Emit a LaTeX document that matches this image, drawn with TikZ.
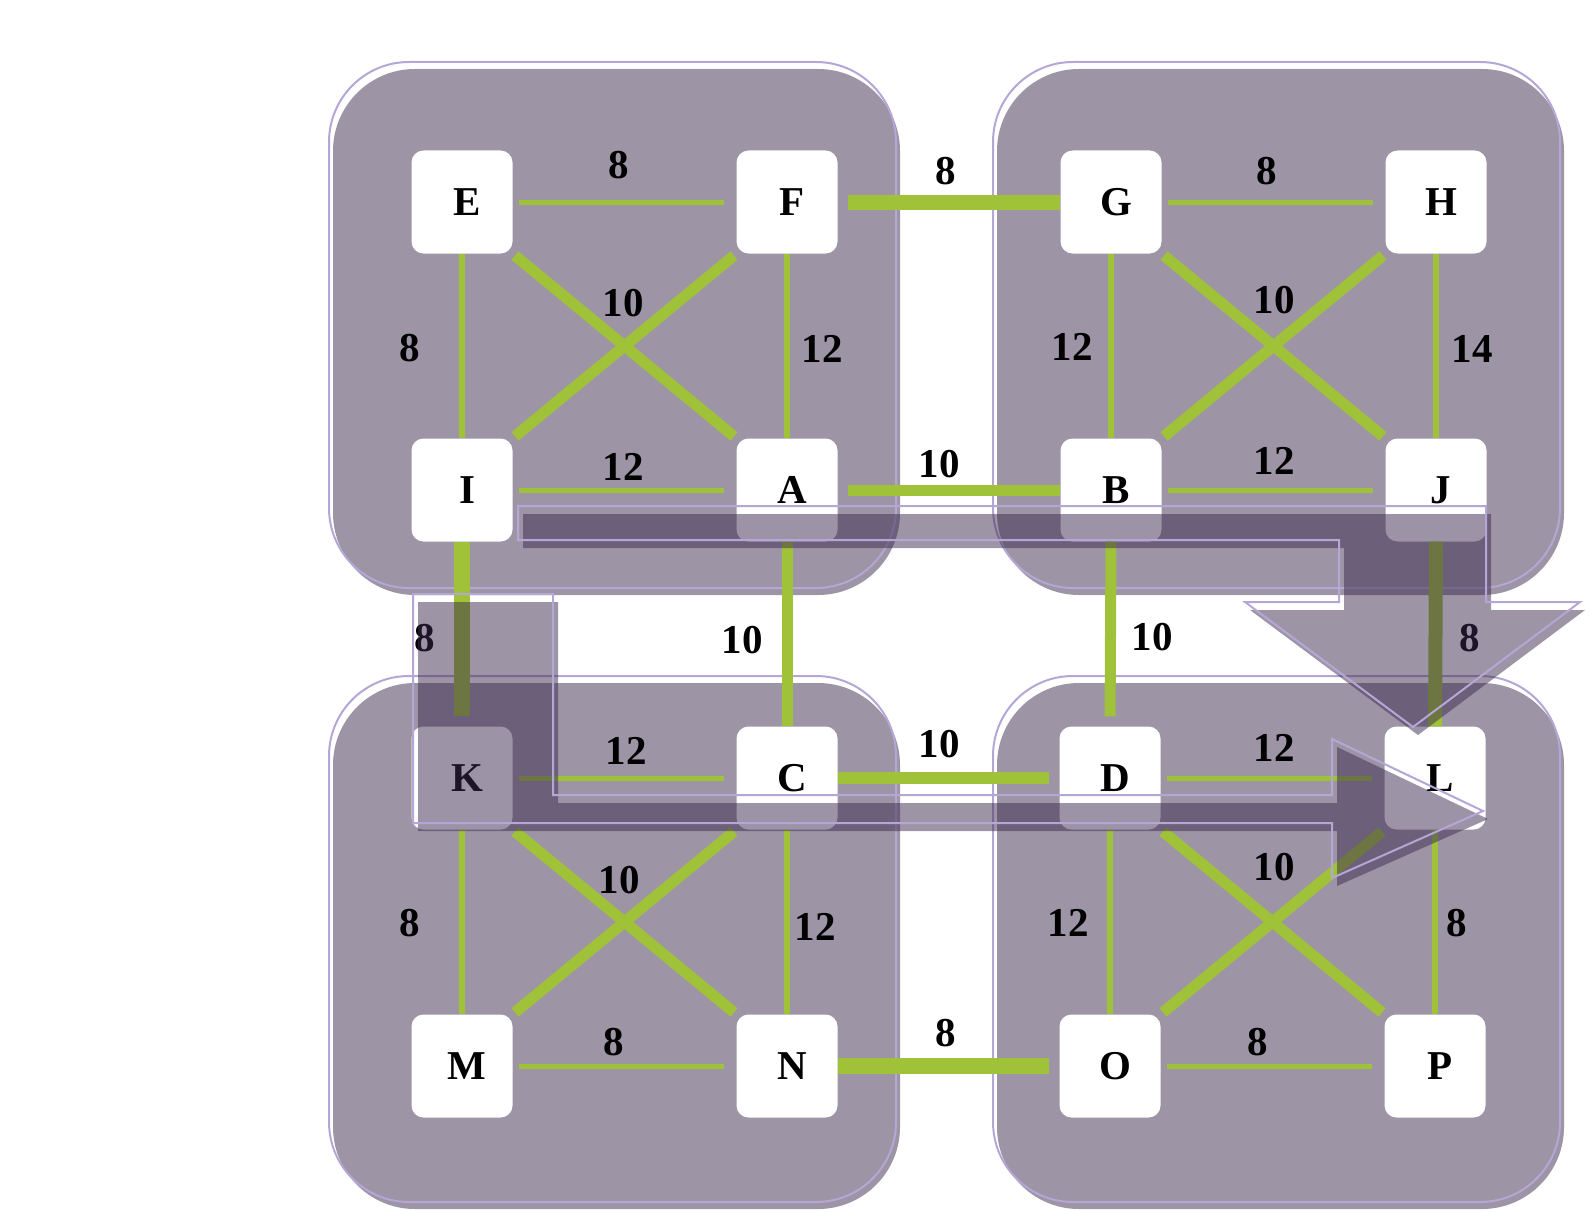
\documentclass[tikz,border=0pt]{standalone}
\usepackage{fontspec}
\setmainfont{Liberation Serif}
\usepackage{tikz}
\usetikzlibrary{calc}

\definecolor{grpfill}{RGB}{59,43,78}
\definecolor{grpline}{RGB}{180,167,214}
\definecolor{edgegreen}{RGB}{160,194,56}

\begin{document}
\begin{tikzpicture}[x=1pt,y=-1pt,
				grp/.style={fill=grpfill,fill opacity=0.5,rounded corners=82pt},
				grpedge/.style={draw=grpline,line width=2pt,rounded corners=80pt},
				vtx/.style={fill=white,rounded corners=12pt,minimum width=101pt,
					minimum height=103pt,inner sep=0pt,
					font=\fontsize{41}{41}\selectfont\bfseries,
					execute at begin node=\hspace*{10pt}},
				wlab/.style={inner sep=0pt,font=\fontsize{41}{41}\selectfont\bfseries},
				thin/.style={draw=edgegreen,line width=5pt},
				cross/.style={draw=edgegreen,line width=11pt,shorten <=3pt,shorten >=3pt},
				bridge/.style={draw=edgegreen},
				bigarrow/.style={fill=grpfill,fill opacity=0.5},
				arrowedge/.style={draw=grpline,line width=2pt,line join=miter}]

				\useasboundingbox (0,0) rectangle (1590,1212);

				%%%%%%%%%%%%%%%%  the four groups  %%%%%%%%%%%%%%%%
				\foreach \gx/\gy in {329/62,993/62,329/676,993/676} {
					\fill[grp] (\gx+4,\gy+7) rectangle +(567,526);
					\draw[grpedge] (\gx,\gy) rectangle +(567,526);
				}

				%%%%%%%%%%%%%%%%  vertices  %%%%%%%%%%%%%%%%
				\node[vtx] (E) at (462,202) {E};
				\node[vtx] (F) at (787,202) {F};
				\node[vtx] (I) at (462,490) {I};
				\node[vtx] (A) at (787,490) {A};
				\node[vtx] (G) at (1111,202) {G};
				\node[vtx] (H) at (1436,202) {H};
				\node[vtx] (B) at (1111,490) {B};
				\node[vtx] (J) at (1436,490) {J};
				\node[vtx] (K) at (462,778) {K};
				\node[vtx] (C) at (787,778) {C};
				\node[vtx] (M) at (462,1066) {M};
				\node[vtx] (N) at (787,1066) {N};
				\node[vtx] (D) at (1110,778) {D};
				\node[vtx] (L) at (1435,778) {L};
				\node[vtx] (O) at (1110,1066) {O};
				\node[vtx] (P) at (1435,1066) {P};

				%%%%%%%%%%%%%%%%  edges inside the groups  %%%%%%%%%%%%%%%%
				\foreach \a/\b in {E/F,I/A,G/H,B/J,K/C,M/N,D/L,O/P}
					\draw[thin,shorten <=6pt,shorten >=12pt] (\a.east) -- (\b.west);
				\foreach \a/\b in {E/I,F/A,G/B,H/J,K/M,C/N,D/O,L/P}
					\draw[thin,line width=5.5pt] (\a.south) -- (\b.north);
				\foreach \a/\b in {E/A,G/J,K/N,D/P}
					\draw[cross] (\a.south east) -- (\b.north west);
				\foreach \a/\b in {I/F,B/H,M/C,O/L}
					\draw[cross] (\a.north east) -- (\b.south west);

				%%%%%%%%%%%%%%%%  edges between the groups  %%%%%%%%%%%%%%%%
				\draw[bridge,line width=15pt,shorten <=10pt] (F.east) -- (G.west);
				\draw[bridge,line width=11pt,shorten <=10pt] (A.east) -- (B.west);
				\draw[bridge,line width=12pt,shorten >=10pt] (C.east) -- (D.west);
				\draw[bridge,line width=16pt,shorten >=10pt] (N.east) -- (O.west);
				\draw[bridge,line width=16pt,shorten >=10pt] (I.south) -- (K.north);
				\draw[bridge,line width=11pt] (A.south) -- (C.north);
				\draw[bridge,line width=11pt,shorten >=10pt] (B.south) -- (D.north);
				\draw[bridge,line width=14pt] (J.south) -- (L.north);

				% weights
				\foreach \n/\x/\y/\w in {1/619/165/8, 2/410/348/8, 3/623/303/10,
						4/822/349/12, 5/623/467/12, 6/946/171/8, 7/939/464/10,
						8/1267/171/8, 9/1072/347/12, 10/1274/300/10, 11/1472/349/14,
						12/1274/461/12, 13/425/638/8, 14/742/640/10, 15/1152/637/10,
						16/1470/638/8, 17/626/751/12, 18/939/744/10, 19/619/880/10,
						20/410/923/8, 21/815/927/12, 22/614/1042/8, 23/946/1033/8,
						24/1274/748/12, 25/1274/867/10, 26/1068/923/12, 27/1457/923/8,
						28/1258/1042/8}
					\node[wlab] (w\n) at (\x,\y) {\w};

				%%%%%%%%%%%%%%%%  the two big arrows  %%%%%%%%%%%%%%%%
				\begin{scope}[shift={(5,8)}]
					\fill[bigarrow] (518,506) -- (1486,506) -- (1486,602) -- (1580,602)
						-- (1413,727) -- (1245,602) -- (1339,602) -- (1339,540)
						-- (518,540) -- cycle;
					\fill[bigarrow] (413,594) -- (553,594) -- (553,795) -- (1332,795)
						-- (1332,739) -- (1483,811) -- (1332,878) -- (1332,823)
						-- (413,823) -- cycle;
				\end{scope}
				\draw[arrowedge] (518,506) -- (1486,506) -- (1486,602) -- (1580,602)
					-- (1413,727) -- (1245,602) -- (1339,602) -- (1339,540)
					-- (518,540) -- cycle;
				\draw[arrowedge] (413,594) -- (553,594) -- (553,795) -- (1332,795)
					-- (1332,739) -- (1483,811) -- (1332,878) -- (1332,823)
					-- (413,823) -- cycle;
			\end{tikzpicture}
\end{document}
